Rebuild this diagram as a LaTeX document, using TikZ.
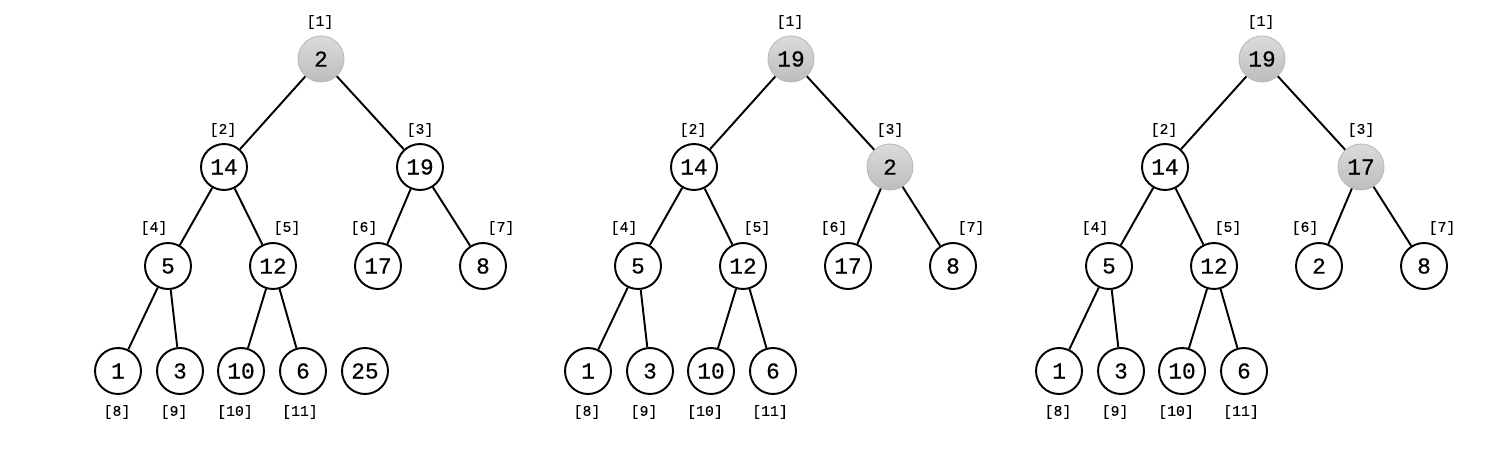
\documentclass[tikz,border=0pt]{standalone}
\usepackage{fontspec}
\setmonofont{Liberation Mono}
\newfontfamily\keyfont[FakeBold=0.4]{Liberation Mono}
\newfontfamily\idxfont[FakeBold=0.2]{Liberation Mono}
\begin{document}
\begin{tikzpicture}[x=0.02cm,y=-0.02cm,
    key/.style={circle,draw,line width=1.1pt,minimum size=0.92cm,inner sep=0pt,
        font=\keyfont\fontsize{13}{14}\selectfont},
    moved/.style={key,draw=gray!55,line width=0.5pt,top color=gray!28,bottom color=gray!52},
    idx/.style={font=\idxfont\fontsize{8.4}{9}\selectfont},
    edge/.style={line width=1.1pt}]
    \useasboundingbox (0,0) rectangle (1500,466);

    % heap before sift-down
    \begin{scope}
        \node[moved] (a1) at (321,59) {2};
        \node[key] (a2) at (224,167) {14};
        \node[key] (a3) at (420,167) {19};
        \node[key] (a4) at (168,266) {5};
        \node[key] (a5) at (273,266) {12};
        \node[key] (a6) at (378,266) {17};
        \node[key] (a7) at (483,266) {8};
        \node[key] (a8) at (118,371) {1};
        \node[key] (a9) at (180,371) {3};
        \node[key] (a10) at (241,371) {10};
        \node[key] (a11) at (303,371) {6};
        \node[key] (a12) at (365,371) {25};
    \end{scope}

    % first swap
    \begin{scope}[shift={(470,0)}]
        \node[moved] (b1) at (321,59) {19};
        \node[key] (b2) at (224,167) {14};
        \node[moved] (b3) at (420,167) {2};
        \node[key] (b4) at (168,266) {5};
        \node[key] (b5) at (273,266) {12};
        \node[key] (b6) at (378,266) {17};
        \node[key] (b7) at (483,266) {8};
        \node[key] (b8) at (118,371) {1};
        \node[key] (b9) at (180,371) {3};
        \node[key] (b10) at (241,371) {10};
        \node[key] (b11) at (303,371) {6};
    \end{scope}

    % second swap
    \begin{scope}[shift={(941,0)}]
        \node[moved] (c1) at (321,59) {19};
        \node[key] (c2) at (224,167) {14};
        \node[moved] (c3) at (420,167) {17};
        \node[key] (c4) at (168,266) {5};
        \node[key] (c5) at (273,266) {12};
        \node[key] (c6) at (378,266) {2};
        \node[key] (c7) at (483,266) {8};
        \node[key] (c8) at (118,371) {1};
        \node[key] (c9) at (180,371) {3};
        \node[key] (c10) at (241,371) {10};
        \node[key] (c11) at (303,371) {6};
    \end{scope}

    \foreach \t in {a,b,c}
    {
        \foreach \p/\c in {1/2,1/3,2/4,2/5,3/6,3/7,4/8,4/9,5/10,5/11}
            \draw[edge] (\t\p) -- (\t\c);
        \foreach \i/\dx/\dy in {1/-1/-37,2/-1/-37,3/0/-37,4/-14/-38,5/14/-38,6/-14/-38,
                7/18/-38,8/-1/41,9/-6/41,10/-6/41,11/-3/41}
            \node[idx] (\t l\i) at ([shift={(\dx,\dy)}]\t\i.center) {[\i]};
    }
\end{tikzpicture}
\end{document}
